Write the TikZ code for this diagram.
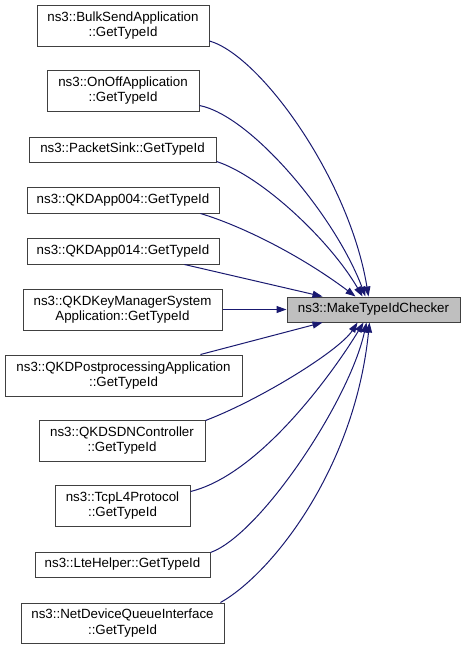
\documentclass[tikz,border=0pt]{standalone}
\usepackage{fontspec}
\setmainfont{Liberation Sans}
\usetikzlibrary{arrows.meta,calc}
\definecolor{edgeblue}{HTML}{191970}
\definecolor{boxborder}{HTML}{404040}
\definecolor{targetfill}{HTML}{BFBFBF}
\begin{document}
\begin{tikzpicture}[x=1pt,y=-1pt,
  fn/.style={draw=boxborder, line width=1pt, fill=white, inner sep=0pt, align=center,
    font=\fontsize{13.33}{15.5}\selectfont, text=black},
  tgt/.style={fn, fill=targetfill},
  edge/.style={draw=edgeblue, line width=1pt, -{Triangle[length=10pt,width=7pt]}}
]
\useasboundingbox (0,0) rectangle (464,649);

\node[fn, minimum width=172pt, minimum height=41pt] (bulk) at (123,25.5) {ns3::BulkSendApplication\\::GetTypeId};
\node[fn, minimum width=152pt, minimum height=41pt] (onoff) at (123,90.5) {ns3::OnOffApplication\\::GetTypeId};
\node[fn, minimum width=187pt, minimum height=25pt] (sink) at (122.5,149.5) {ns3::PacketSink::GetTypeId};
\node[fn, minimum width=192pt, minimum height=26pt] (app004) at (123,200) {ns3::QKDApp004::GetTypeId};
\node[fn, minimum width=192pt, minimum height=26pt] (app014) at (123,251) {ns3::QKDApp014::GetTypeId};
\node[fn, minimum width=199pt, minimum height=41pt] (kms) at (122.5,309.5) {ns3::QKDKeyManagerSystem\\Application::GetTypeId};
\node[fn, minimum width=237pt, minimum height=41pt] (post) at (123.5,375.5) {ns3::QKDPostprocessingApplication\\::GetTypeId};
\node[fn, minimum width=166pt, minimum height=41pt] (sdn) at (122,440.5) {ns3::QKDSDNController\\::GetTypeId};
\node[fn, minimum width=135pt, minimum height=41pt] (tcp) at (122.5,505.5) {ns3::TcpL4Protocol\\::GetTypeId};
\node[fn, minimum width=175pt, minimum height=25pt] (lte) at (122.5,564.5) {ns3::LteHelper::GetTypeId};
\node[fn, minimum width=203pt, minimum height=40pt] (ndq) at (122.5,623) {ns3::NetDeviceQueueInterface\\::GetTypeId};

\node[tgt, minimum width=173pt, minimum height=25pt] (target) at (373.5,309.5) {ns3::MakeTypeIdChecker};

% upper edges
\draw[edge] ($(bulk.south east)+(0,-5.5)$) .. controls +(51,14.5) and +(-19,-117) .. ($(target.north west)+(82,0)$);
\draw[edge] ($(onoff.south east)+(0,-6)$) .. controls +(51,10) and +(-31,-82) .. ($(target.north west)+(79,0)$);
\draw[edge] ($(sink.south east)+(0,-1)$) .. controls +(44,14) and +(-33,-57) .. ($(target.north west)+(76,0)$);
\draw[edge] ($(app004.south east)+(-19,0)$) .. controls +(40,12) and +(-56,-42) .. ($(target.north west)+(69,0)$);
\draw[edge] ($(app014.south east)+(-35,0)$) -- ($(target.north west)+(36,0)$);
% middle
\draw[edge] (kms.east) -- (target.west);
% lower edges
\draw[edge] ($(post.north east)+(-42,0)$) -- ($(target.south west)+(36,0)$);
\draw[edge] ($(sdn.north east)+(0,1)$) .. controls +(55,-21) and +(-18,28) .. ($(target.south west)+(71,0)$);
\draw[edge] ($(tcp.north east)+(0,7)$) .. controls +(70,-17) and +(-29,48) .. ($(target.south west)+(77,0)$);
\draw[edge] ($(lte.north east)+(0,1)$) .. controls +(50,-18) and +(-17,78) .. ($(target.south west)+(80,0)$);
\draw[edge] ($(ndq.north east)+(-4,0)$) .. controls +(50,-28) and +(-15,148) .. ($(target.south west)+(83,0)$);
\end{tikzpicture}
\end{document}
